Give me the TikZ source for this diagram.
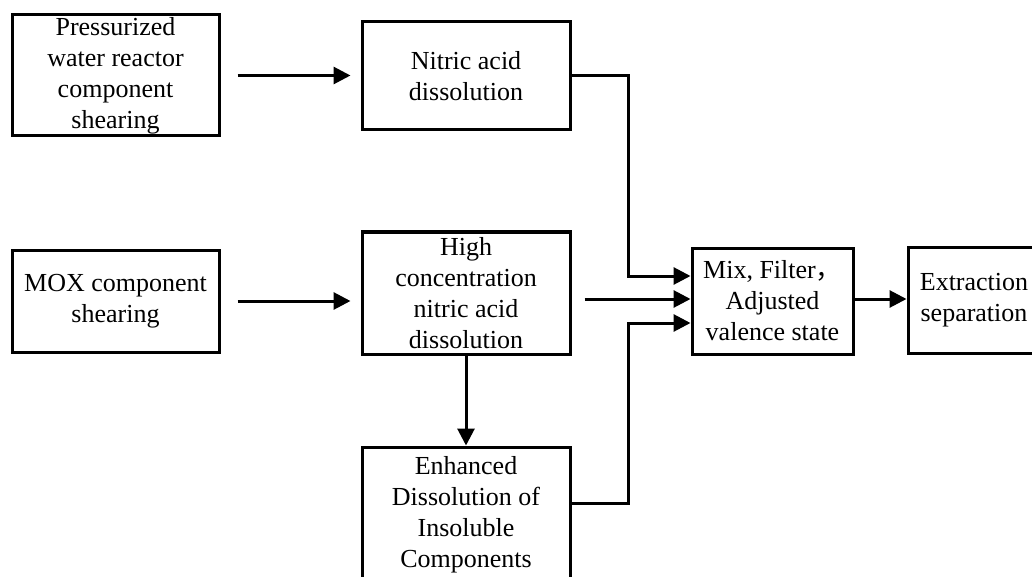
\documentclass[tikz,border=0pt]{standalone}
\usepackage{fontspec}
\setmainfont{Liberation Serif}
\newfontfamily\cjk{Noto Sans CJK SC}
\usetikzlibrary{arrows.meta,calc}
\tikzset{
    blk/.style={draw, line width=1.5pt, inner sep=0pt, align=center,
        font=\fontsize{13pt}{15.5pt}\selectfont},
    flow/.style={line width=1.5pt, -{Triangle[length=8.5pt,width=8.5pt]}}}
\begin{document}
\begin{tikzpicture}[x=0.5pt,y=-0.5pt]
\useasboundingbox (0,0) rectangle (1032,577);
\node[blk, minimum width=103.5pt, minimum height=60.5pt] (b1) at (115.5,75.5) {Pressurized\\water reactor\\component\\shearing};
\node[blk, minimum width=104pt, minimum height=54pt] (b2) at (466,76) {Nitric acid\\dissolution};
\node[blk, minimum width=103.5pt, minimum height=51pt] (b3) at (115.5,301) {MOX component\\shearing};
\node[blk, minimum width=104pt, minimum height=61pt] (b4) at (466,293) {High\\concentration\\nitric acid\\dissolution};
\node[blk, minimum width=104pt, minimum height=68pt] (b5) at (466,515) {Enhanced\\Dissolution of\\Insoluble\\Components};
\node[blk, minimum width=80.5pt, minimum height=53pt] (b6) at (772.5,301) {Mix, Filter{\cjk ，}\\Adjusted\\valence state};
\node[blk, minimum width=66pt, minimum height=53pt] (b7) at (974,300) {Extraction\\separation};

\coordinate (k1) at (628,76);
\coordinate (k2) at (628,503);

\draw[flow, shorten <=8.5pt, shorten >=5pt] (b1.east) -- (b1.east -| b2.west);
\draw[flow, shorten <=8.5pt, shorten >=5pt] (b3.east) -- (b3.east -| b4.west);
\draw[flow] (b4.south) -- (b5.north);
\draw[flow] (b2.east) -- (k1) |- ([yshift=12.5pt]b6.west);
\draw[flow, shorten <=6.5pt] (b4.east |- 0,299) -- (b6.west |- 0,299);
\draw[flow] (b5.east |- k2) -- (k2) |- ([yshift=-11pt]b6.west);
\draw[flow] (b6.east |- 0,299) -- (b7.west |- 0,299);
\end{tikzpicture}
\end{document}
